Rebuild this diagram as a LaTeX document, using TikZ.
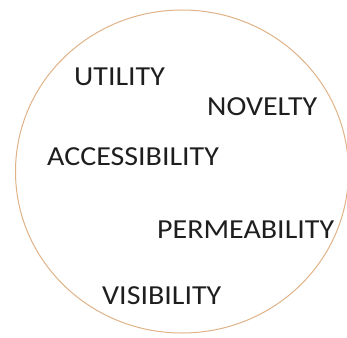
\documentclass[tikz,border=0pt]{standalone}
\usepackage{fontspec}
\usepackage{graphicx}
\setmainfont{Carlito}
\definecolor{ringcol}{RGB}{224,178,136}
\definecolor{txtcol}{RGB}{30,30,30}
\newcommand{\wlbl}[1]{\scalebox{1.09}[1]{#1}}
\tikzset{
  lbl/.style={anchor=base west, inner sep=0pt, text=txtcol, font=\fontsize{27.5}{30}\selectfont},
  ring/.style={draw=ringcol, line width=1pt}
}
\begin{document}
\begin{tikzpicture}[x=1pt,y=-1pt]
\useasboundingbox (0,0) rectangle (347,337);
\draw[ring] (182,171.5) ellipse [x radius=166.5, y radius=161.5];
\node[lbl] (u) at (74,85) {\wlbl{UTILITY}};
\node[lbl] (n) at (207,115) {\wlbl{NOVELTY}};
\node[lbl] (a) at (47,165) {\wlbl{ACCESSIBILITY}};
\node[lbl] (p) at (157,238) {\wlbl{PERMEABILITY}};
\node[lbl] (v) at (102,304) {\wlbl{VISIBILITY}};
\end{tikzpicture}
\end{document}
